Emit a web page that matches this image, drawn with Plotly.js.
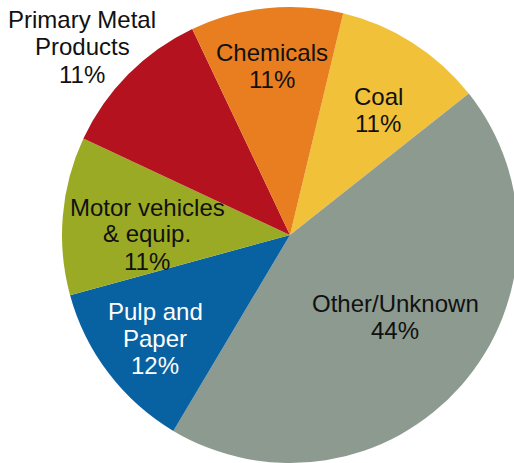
<!DOCTYPE html>
<html>
<head>
<meta charset="utf-8">
<script src="https://cdn.plot.ly/plotly-3.0.1.min.js"></script>
<style>
html,body{margin:0;padding:0;overflow:hidden;background:#fff;width:514px;height:463px;}
#chart{width:580px;height:470px;}
</style>
</head>
<body>
<div id="chart"></div>
<script>
// Data
var categories = ["Coal", "Other/Unknown", "Pulp and<br>Paper", "Motor vehicles<br>& equip.", "Primary Metal<br>Products", "Chemicals"];
var shares = [10.6, 44.2, 12.2, 11.2, 11.0, 10.8];
var colors = ["#F1C13A", "#8C9A8F", "#0862A2", "#9BAA24", "#B5121F", "#E87E20"];
var textColors = ["#111111", "#111111", "#FFFFFF", "#111111", "#111111", "#111111"];

// Label placement (pixels, within the 580x470 plot area)
var labelPos = [[378, 110], [395, 317], [155, 338], [147, 234], [82, 47], [272, 66]];
var lineStep = 27;

var W = 580, H = 470;
var total = shares.reduce(function(a, b){ return a + b; }, 0);

var annotations = [];
categories.forEach(function(c, i){
  var lines = (c + '<br>' + Math.round(shares[i] / total * 100) + '%').split('<br>');
  var n = lines.length;
  lines.forEach(function(t, k){
    var py = labelPos[i][1] + (k - (n - 1) / 2) * lineStep;
    annotations.push({
      xref: 'paper', yref: 'paper',
      x: labelPos[i][0] / W, y: 1 - py / H,
      xanchor: 'center', yanchor: 'middle',
      text: t,
      showarrow: false,
      align: 'center',
      font: {family: 'Liberation Sans, Arial, sans-serif', size: 24, color: textColors[i]}
    });
  });
});

var trace = {
  type: 'pie',
  labels: categories,
  values: shares,
  sort: false,
  direction: 'clockwise',
  rotation: 13.5,
  marker: {colors: colors, line: {width: 0}},
  textinfo: 'none',
  hoverinfo: 'none',
  domain: {x: [62 / W, 518 / W], y: [7 / H, 463 / H]}
};

var layout = {
  width: W, height: H,
  margin: {l: 0, r: 0, t: 0, b: 0, pad: 0},
  showlegend: false,
  paper_bgcolor: '#ffffff',
  annotations: annotations
};

Plotly.newPlot('chart', [trace], layout, {displayModeBar: false, staticPlot: true});
</script>
</body>
</html>
